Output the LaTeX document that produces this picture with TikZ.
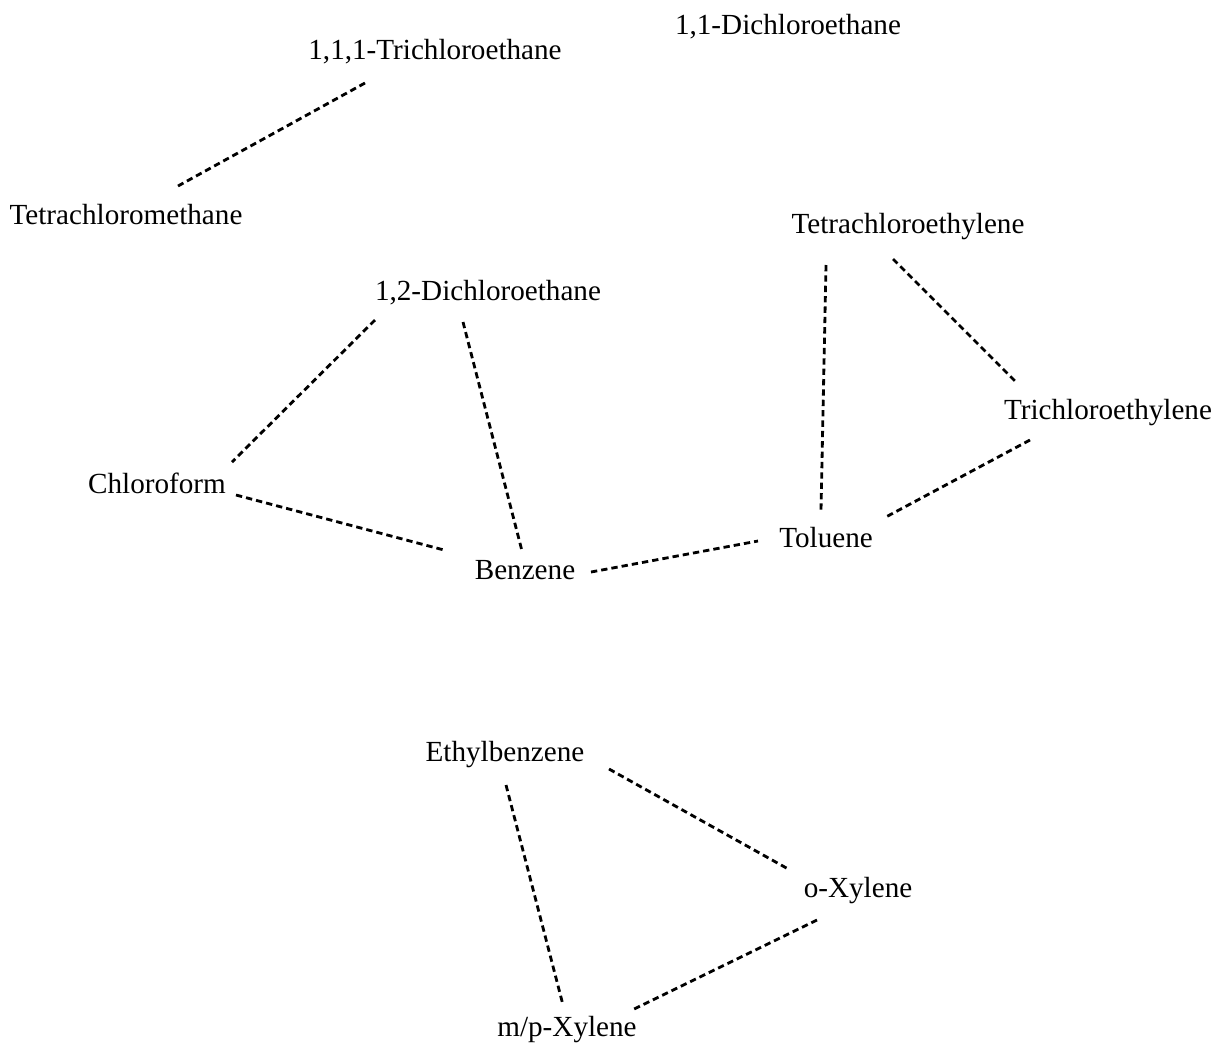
\documentclass[tikz,border=0pt]{standalone}
\usepackage{fontspec}
\setmainfont{Liberation Serif}
\usetikzlibrary{calc}
\begin{document}
\begin{tikzpicture}[x=0.02cm,y=-0.02cm]
\tikzstyle{every node}+=[inner sep=0pt, font=\fontsize{16.6}{19}\selectfont]
\tikzstyle{link}=[black, line width=1.6pt, dash pattern=on 3.6pt off 2.3pt]
\useasboundingbox (0,0) rectangle (1212,1042);
% compounds
\node (tca) at (435,52) {1,1,1-Trichloroethane};
\node (dcea) at (788,27) {1,1-Dichloroethane};
\node (ctet) at (126,215) {Tetrachloromethane};
\node (pce) at (908,227) {Tetrachloroethylene};
\node (dceb) at (488,293) {1,2-Dichloroethane};
\node (tce) at (1108,413) {Trichloroethylene};
\node (chl) at (157,483) {Chloroform};
\node (tol) at (826,538) {Toluene};
\node (benz) at (525,570) {Benzene};
\node (ebz) at (505,755) {Ethylbenzene};
\node (oxy) at (858,891) {o-Xylene};
\node (mpx) at (567,1030) {m/p-Xylene};
% links
\draw [link] ($(tca)+(-70,31)$) -- ($(ctet)+(52,-29)$);
\draw [link] ($(dceb)+(-113,27)$) -- ($(chl)+(75,-21)$);
\draw [link] ($(dceb)+(-25,29)$) -- ($(benz)+(-3,-19)$);
\draw [link] ($(chl)+(79,12)$) -- ($(benz)+(-81,-20)$);
\draw [link] ($(benz)+(66,2)$) -- ($(tol)+(-68,3)$);
\draw [link] ($(pce)+(-82,38)$) -- ($(tol)+(-5,-28)$);
\draw [link] ($(pce)+(-15,32)$) -- ($(tce)+(-92,-31)$);
\draw [link] ($(tce)+(-78,27)$) -- ($(tol)+(58,-20)$);
\draw [link] ($(ebz)+(104,14)$) -- ($(oxy)+(-68,-21)$);
\draw [link] ($(ebz)+(1,30)$) -- ($(mpx)+(-4,-25)$);
\draw [link] ($(oxy)+(-41,29)$) -- ($(mpx)+(65,-20)$);
\end{tikzpicture}
\end{document}
